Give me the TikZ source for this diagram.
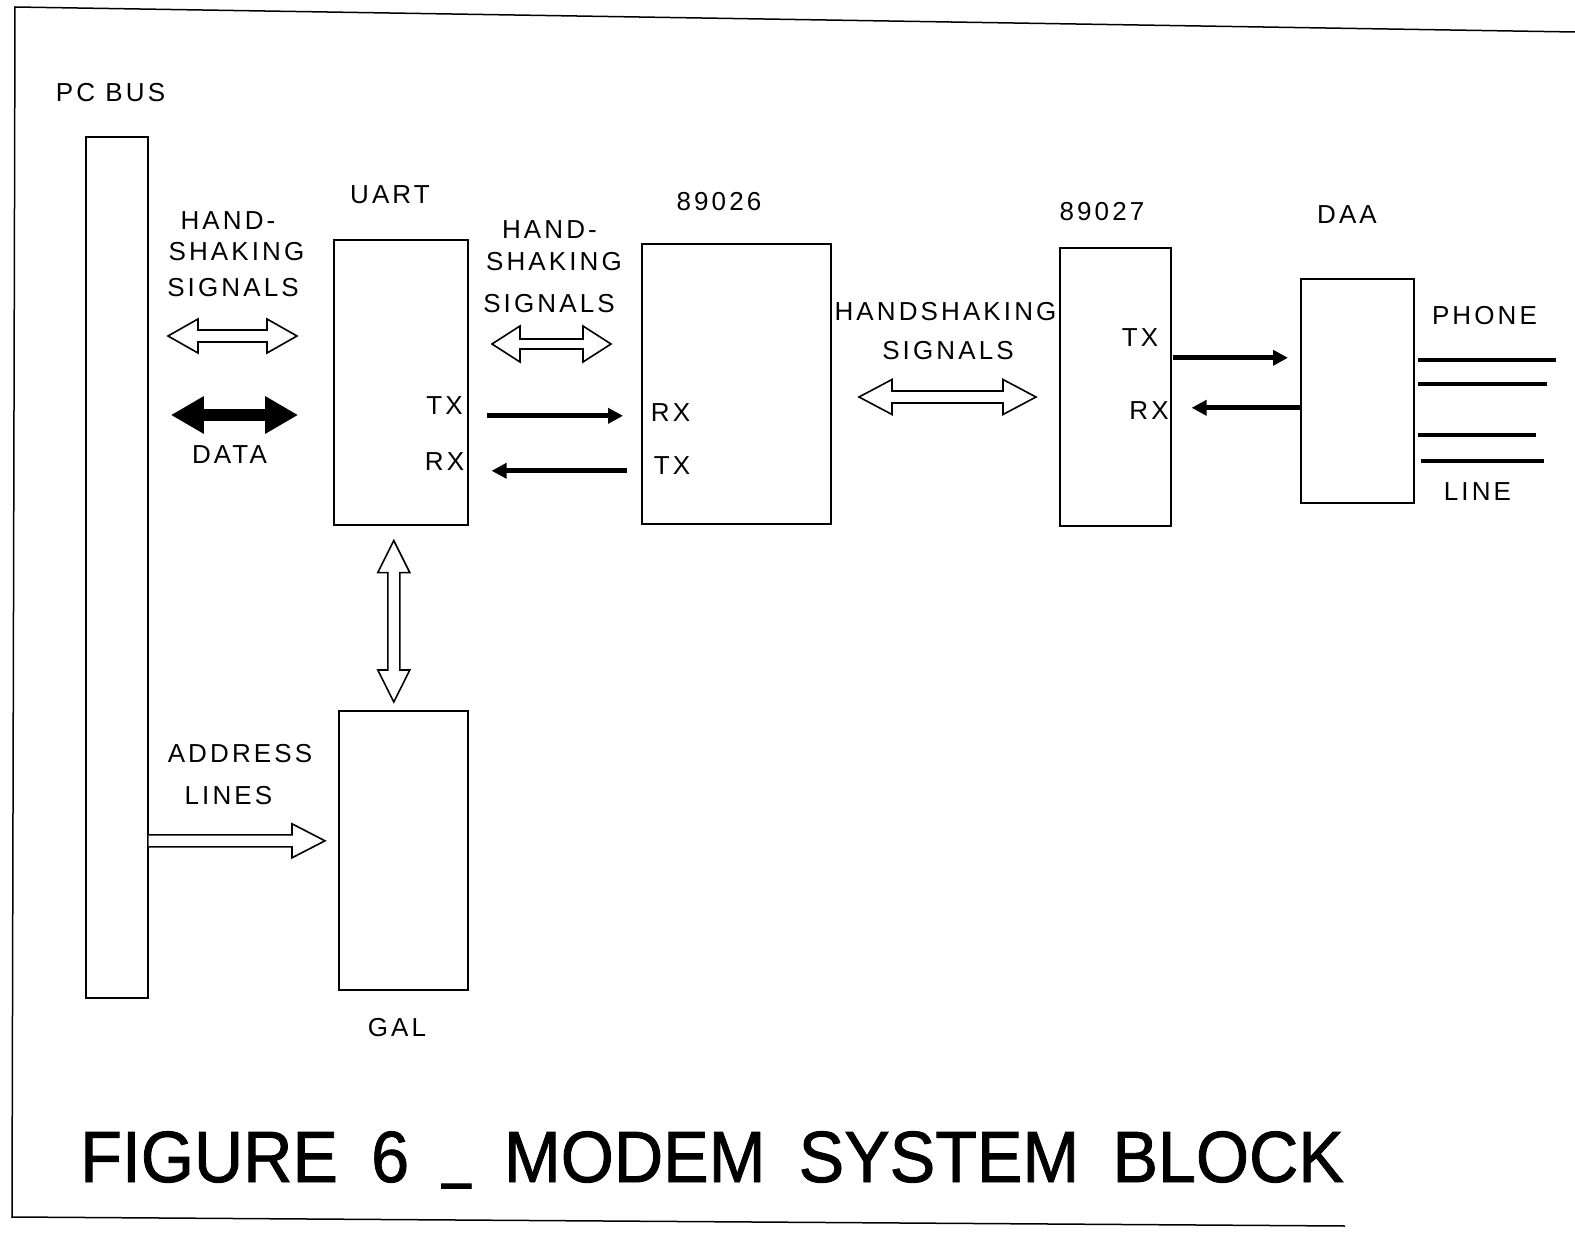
\documentclass[tikz,border=0pt]{standalone}
\usepackage{fontspec}
\usepackage{graphicx}
\setmainfont{Liberation Sans}
\newfontfamily\lblfont[LetterSpace=12]{Liberation Sans}
\newfontfamily\ttlfont[FakeBold=1.2,WordSpace=1.75]{Liberation Sans}
\usetikzlibrary{arrows.meta,calc}

% horizontal hollow double arrow: from, to, shaft half, head half, head length
\newcommand\hdbl[6][]{\draw[hollow,#1] let \p1=(#2), \p2=(#3) in
  (\p1) -- ++(#6pt,#5pt) -- ++(0pt,#4pt-#5pt) -- (\x2-#6pt,\y1+#4pt) -- ++(0pt,#5pt-#4pt)
  -- (\p2) -- ++(-#6pt,-#5pt) -- ++(0pt,#5pt-#4pt) -- (\x1+#6pt,\y1-#4pt) -- ++(0pt,#4pt-#5pt) -- cycle;}
% vertical hollow double arrow: top, bottom, shaft half, head half, head length
\newcommand\vdbl[6][]{\draw[hollow,#1] let \p1=(#2), \p2=(#3) in
  (\p1) -- ++(#5pt,-#6pt) -- ++(#4pt-#5pt,0pt) -- (\x1+#4pt,\y2+#6pt) -- ++(#5pt-#4pt,0pt)
  -- (\p2) -- ++(-#5pt,#6pt) -- ++(#5pt-#4pt,0pt) -- (\x1-#4pt,\y1-#6pt) -- ++(#4pt-#5pt,0pt) -- cycle;}
% single hollow arrow to the right: from, to, shaft half, head half, head length
\newcommand\hsgl[6][]{\draw[hollow,#1] let \p1=(#2), \p2=(#3) in
  (\x1,\y1+#4pt) -- (\x2-#6pt,\y1+#4pt) -- ++(0pt,#5pt-#4pt) -- (\p2)
  -- (\x2-#6pt,\y1-#5pt) -- ++(0pt,#5pt-#4pt) -- (\x1,\y1-#4pt);}
\newcommand\blk[5]{\node[box, minimum width={#4pt-#2pt}, minimum height={#5pt-#3pt}] (#1) at (#2,#3) {};}

\begin{document}
\begin{tikzpicture}[x=1pt,y=-1pt,
  box/.style={draw, line width=1.6pt, inner sep=0pt, anchor=north west},
  lbl/.style={font=\lblfont\fontsize{26}{28}\selectfont, inner sep=0pt},
  hollow/.style={draw, line width=1.6pt, fill=white, line join=miter},
  sarr/.style={line width=5pt, -{Triangle[length=15pt,width=15pt]}},
  phone/.style={line width=4.5pt},
  frame/.style={line width=1.5pt}]
\fill[white] (0,0) rectangle (1575,1233);
\useasboundingbox (0,0) rectangle (1575,1233);

% frame
\draw[frame] (1575,32) -- (15,7) -- (12,1217) -- (1345,1226);

% blocks
\blk{bus}{85}{136}{147}{997}
\blk{uart}{333}{239}{467}{524}
\blk{mA}{641}{243}{830}{523}
\blk{mB}{1059}{247}{1170}{525}
\blk{daa}{1300}{278}{1413}{502}
\blk{gal}{338}{710}{467}{989}

% labels
\node[lbl] (lpc) at (110.5,93) {PC BUS};
\node[lbl] (lh1a) at (228,221) {HAND-};
\node[lbl] (lh1b) at (236.5,252) {SHAKING};
\node[lbl] (lh1c) at (233,288) {SIGNALS};
\node[lbl] (luart) at (390,195) {UART};
\node[lbl] (lh2a) at (549.5,230) {HAND-};
\node[lbl] (lh2b) at (554,262) {SHAKING};
\node[lbl] (lh2c) at (549,304) {SIGNALS};
\node[lbl] (lmA) at (719,202) {89026};
\node[lbl] (lmB) at (1102,212) {89027};
\node[lbl] (ldaa) at (1347,215) {DAA};
\node[lbl] (lh3a) at (945.5,312) {HANDSHAKING};
\node[lbl] (lh3b) at (948,351) {SIGNALS};
\node[lbl] (utx) at (444.5,406) {TX};
\node[lbl] (urx) at (444.5,462) {RX};
\node[lbl] (arx) at (670.5,413) {RX};
\node[lbl] (atx) at (672,466) {TX};
\node[lbl] (btx) at (1140,338) {TX};
\node[lbl] (brx) at (1149,411) {RX};
\node[lbl] (lphone) at (1484.5,316) {PHONE};
\node[lbl] (lline) at (1477.5,492) {LINE};
\node[lbl] (ldata) at (229.5,455) {DATA};
\node[lbl] (laddr) at (240,754) {ADDRESS};
\node[lbl] (llines) at (228.5,796) {LINES};
\node[lbl] (lgal) at (397,1028) {GAL};

% hollow / bold arrows
\coordinate (h1a) at (168,336); \coordinate (h1b) at (297,336);
\coordinate (da) at (173,415);  \coordinate (db) at (296,415);
\coordinate (h2a) at (492,344); \coordinate (h2b) at (611,344);
\coordinate (h3a) at (859,397); \coordinate (h3b) at (1036,397);
\hdbl{h1a}{h1b}{6}{17}{30}
\hdbl[fill=black]{da}{db}{5}{17.5}{30}
\hdbl{h2a}{h2b}{5}{18}{28}
\hdbl{h3a}{h3b}{6}{17.5}{33}
\vdbl{$(uart.south)+(-7,15)$}{$(gal.north)+(-9.5,-8)$}{6}{16}{32}
\hsgl{$(bus.east)+(0,273.5)$}{$(gal.west)+(-13,-9.5)$}{6}{17}{33}

% TX / RX arrows
\draw[sarr] ($(uart.east)+(18,33.5)$) -- ($(mA.west)+(-18,32)$);
\draw[sarr] ($(mA.west)+(-14,87)$) -- ($(uart.east)+(23,88.5)$);
\draw[sarr] ($(mB.east)+(1,-29)$) -- ($(daa.west)+(-12,-33)$);
\draw[sarr] ($(daa.west)+(0,17)$) -- ($(mB.east)+(20,21)$);

% phone lines
\draw[phone] ($(daa.east)+(3,-31)$) -- ++(138,0);
\draw[phone] ($(daa.east)+(3,-7)$) -- ++(129,0);
\draw[phone] ($(daa.east)+(3,44)$) -- ++(118,0);
\draw[phone] ($(daa.east)+(6,70)$) -- ++(123,0);

% title
\node[anchor=base west, inner sep=0pt, font=\ttlfont\fontsize{72.6}{80}\selectfont, xscale=0.94]
  (title) at (80,1182) {FIGURE 6 \raisebox{8pt}{\scalebox{0.75}[1]{\char"5F}} MODEM SYSTEM BLOCK};
\end{tikzpicture}
\end{document}
